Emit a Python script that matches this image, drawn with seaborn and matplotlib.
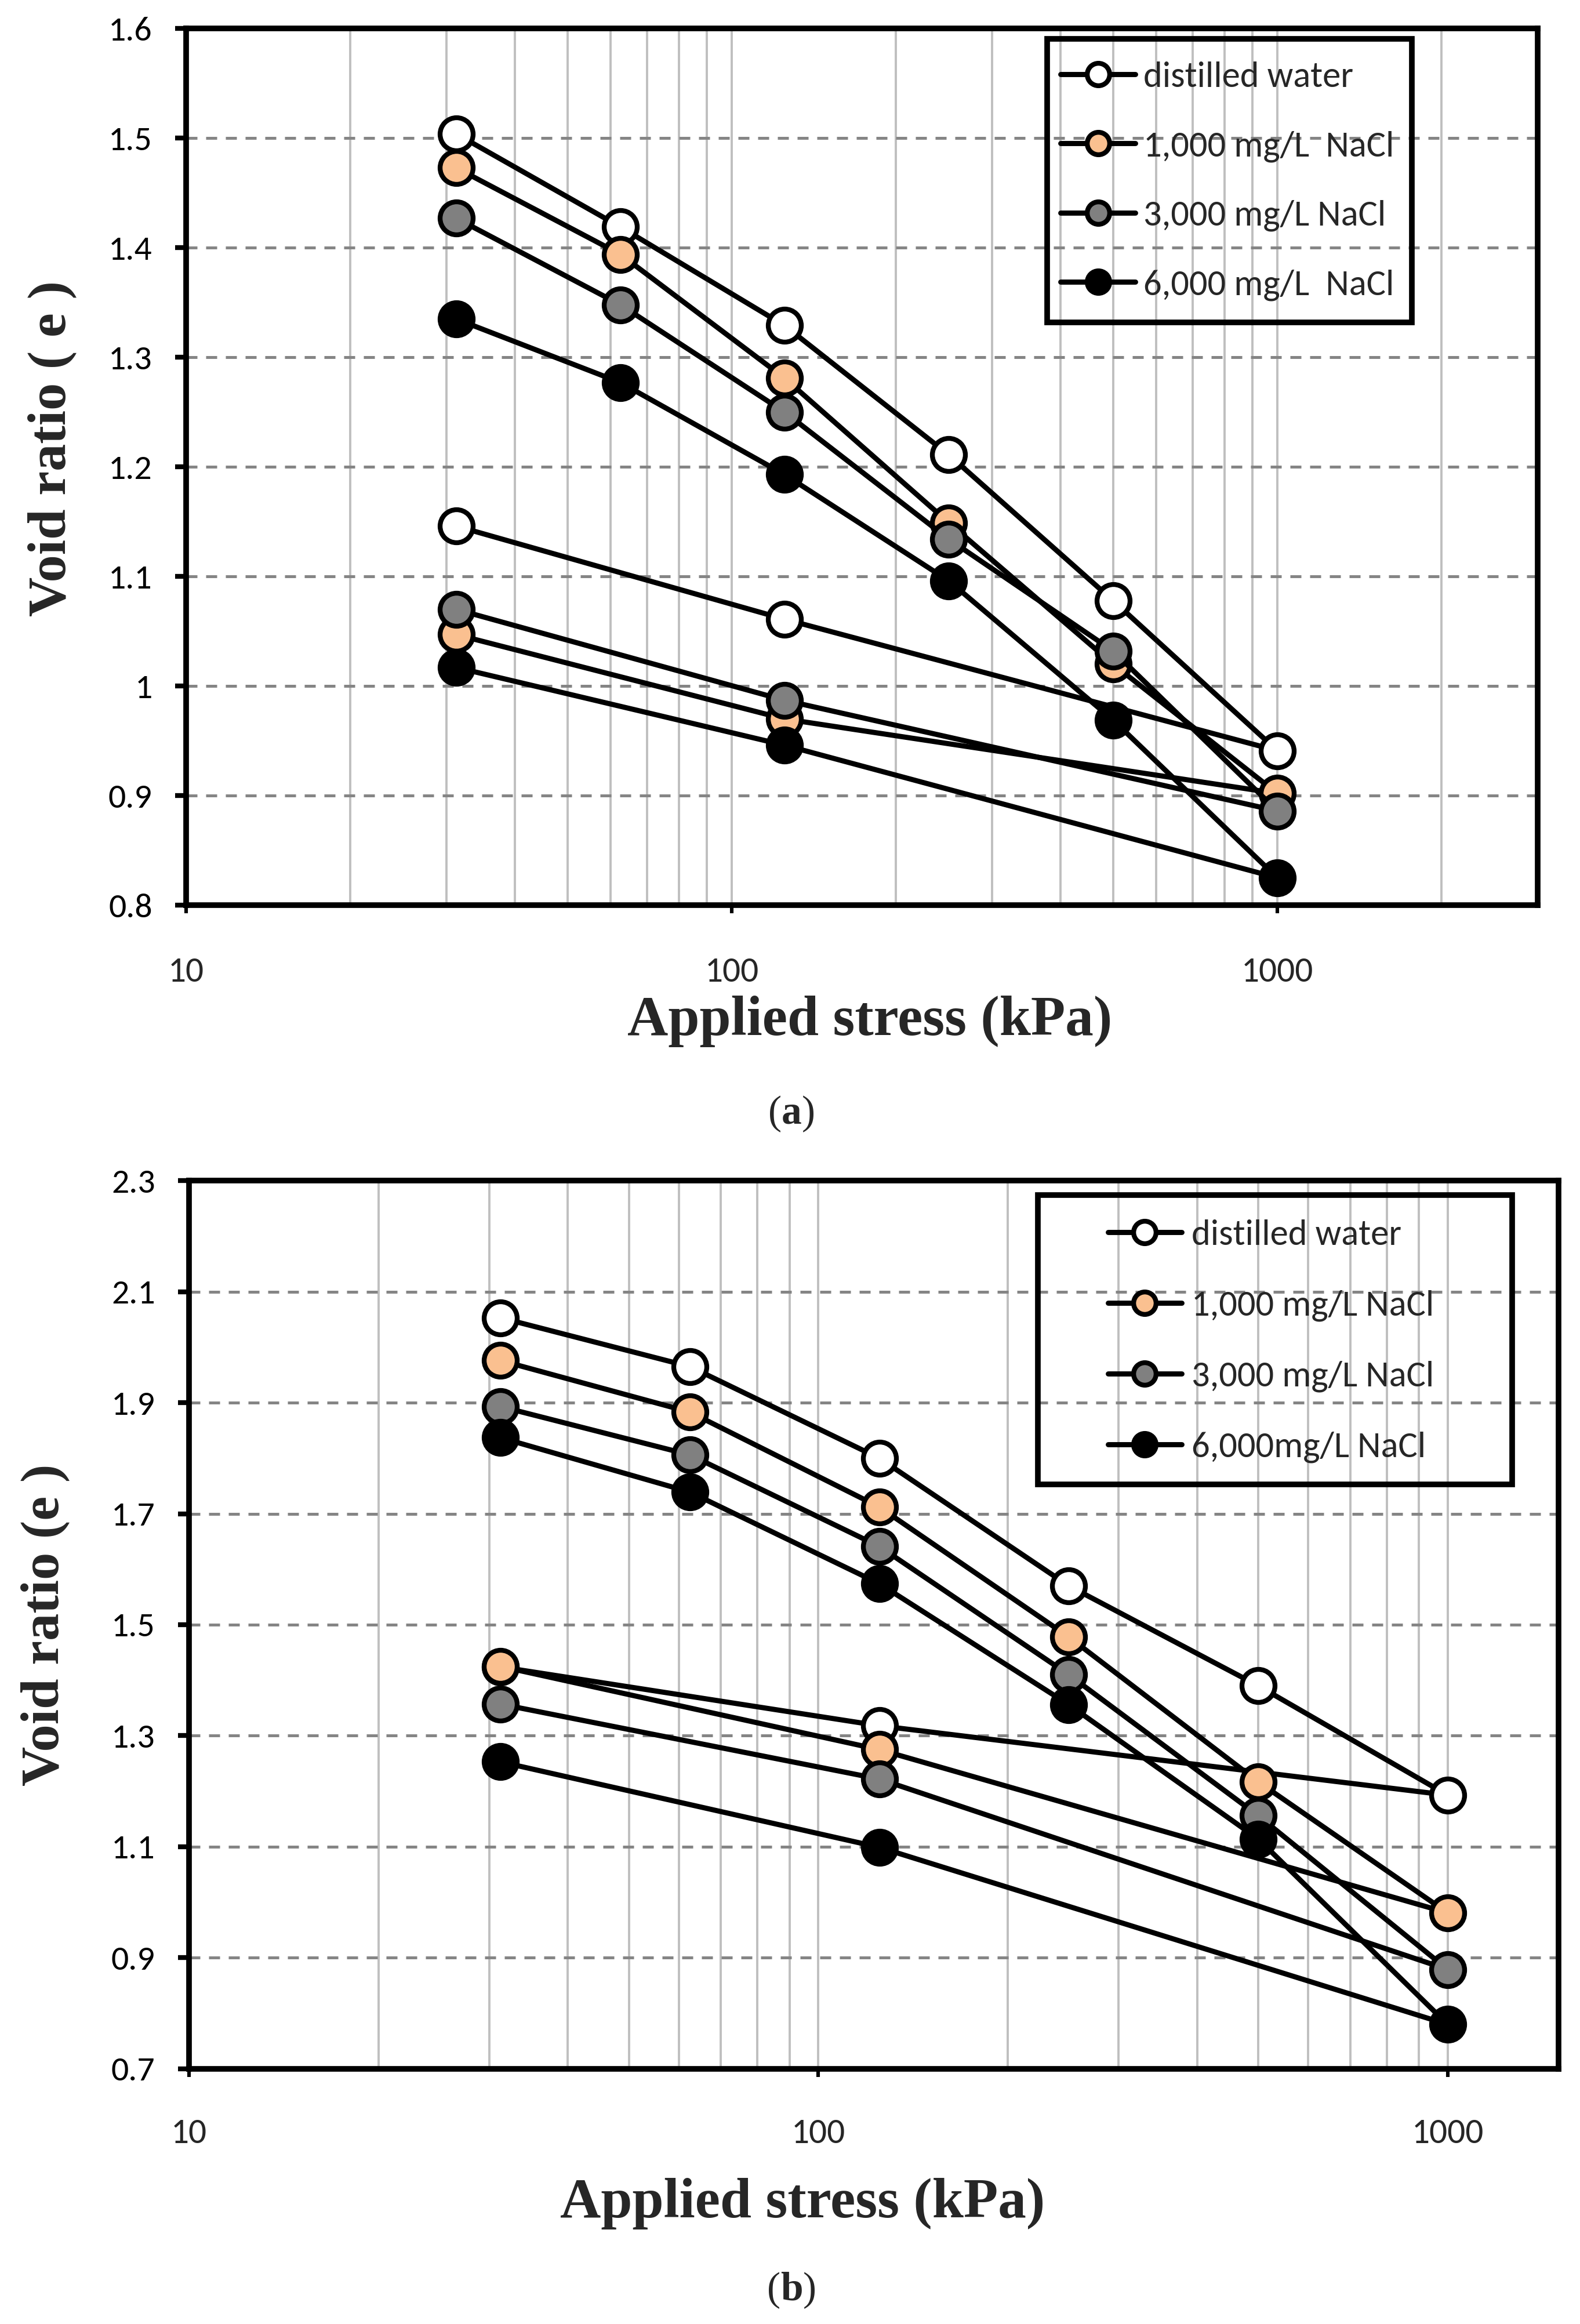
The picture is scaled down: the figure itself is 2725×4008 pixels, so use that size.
import numpy as np
import pandas as pd
import matplotlib
matplotlib.use("Agg")
import matplotlib.pyplot as plt
import seaborn as sns
from matplotlib import font_manager
from matplotlib.font_manager import FontProperties
from matplotlib.ticker import FixedLocator, LogLocator, FuncFormatter, NullFormatter
from matplotlib.patches import Rectangle

# ---------------- data ----------------
stress_load = [31.25, 62.5, 125, 250, 500, 1000]
stress_unload = [125, 31.25]

fill_colors = ["#FFFFFF", "#FAC090", "#808080", "#000000"]

legend_a = ["distilled water", "1,000 mg/L  NaCl", "3,000 mg/L NaCl", "6,000 mg/L  NaCl"]
legend_b = ["distilled water", "1,000 mg/L NaCl", "3,000 mg/L NaCl", "6,000mg/L NaCl"]

# panel (a)
a_dw_load = [1.504, 1.419, 1.329, 1.211, 1.078, 0.941]
a_dw_unload = [1.061, 1.146]
a_1000_load = [1.473, 1.394, 1.281, 1.149, 1.020, 0.902]
a_1000_unload = [0.970, 1.047]
a_3000_load = [1.427, 1.348, 1.250, 1.134, 1.032, 0.886]
a_3000_unload = [0.987, 1.070]
a_6000_load = [1.335, 1.277, 1.193, 1.096, 0.969, 0.825]
a_6000_unload = [0.946, 1.017]

# panel (b)
b_dw_load = [2.053, 1.965, 1.800, 1.570, 1.390, 1.193]
b_dw_unload = [1.318, 1.424]
b_1000_load = [1.976, 1.883, 1.712, 1.478, 1.217, 0.981]
b_1000_unload = [1.275, 1.425]
b_3000_load = [1.893, 1.806, 1.641, 1.410, 1.156, 0.879]
b_3000_unload = [1.222, 1.357]
b_6000_load = [1.837, 1.739, 1.574, 1.356, 1.114, 0.780]
b_6000_unload = [1.099, 1.253]

a_yticks = [0.8, 0.9, 1.0, 1.1, 1.2, 1.3, 1.4, 1.5, 1.6]
b_yticks = [0.7, 0.9, 1.1, 1.3, 1.5, 1.7, 1.9, 2.1, 2.3]
x_ticks = [10, 100, 1000]

# ---------------- fonts / rc ----------------
sns.set_style("white")
names = {f.name for f in font_manager.fontManager.ttflist}
SANS = next((n for n in ["Carlito", "Lato", "Noto Sans"] if n in names), "DejaVu Sans")
SERIF = next((n for n in ["Liberation Serif", "DejaVu Serif"] if n in names), "DejaVu Serif")
plt.rcParams["font.family"] = [SANS, "DejaVu Sans"]
plt.rcParams.update({
    "xtick.major.size": 5, "xtick.major.width": 2.2,
    "xtick.direction": "out", "xtick.bottom": True, "xtick.color": "black",
    "ytick.major.pad": 14, "ytick.major.size": 7, "ytick.major.width": 3,
    "ytick.labelsize": 21.5, "ytick.direction": "out", "ytick.left": True,
    "ytick.color": "black",
    "xtick.minor.size": 0, "ytick.minor.size": 0,
})

DPI = 200
fig = plt.figure(figsize=(2725 / DPI, 4008 / DPI), dpi=DPI, facecolor="white")

ax_a = fig.add_axes([0.1178, 0.6105, 0.8554, 0.3772])
ax_b = fig.add_axes([0.1196, 0.1098, 0.8668, 0.3822])


def draw_series(ax, loads, unloads, labels):
    for i, (ld, ul) in enumerate(zip(loads, unloads)):
        df = pd.DataFrame({"stress": stress_load + stress_unload, "e": ld + ul})
        sns.lineplot(data=df, x="stress", y="e", ax=ax, sort=False, estimator=None,
                     color="black", linewidth=3.2, marker="o", markersize=20.5,
                     markerfacecolor=fill_colors[i], markeredgecolor="black",
                     markeredgewidth=3.0, label=labels[i], zorder=3 + i)


def style_axes(ax, ylim, yticks, xmax, xlab_off):
    ax.set_xscale("log")
    ax.set_xlim(10, xmax)
    ax.set_ylim(*ylim)
    ax.set_axisbelow(True)
    ax.xaxis.set_major_locator(FixedLocator(x_ticks))
    ax.xaxis.set_major_formatter(NullFormatter())
    ax.xaxis.set_minor_locator(LogLocator(base=10, subs=np.arange(2, 10)))
    ax.xaxis.set_minor_formatter(NullFormatter())
    ax.yaxis.set_major_locator(FixedLocator(yticks))
    ax.yaxis.set_major_formatter(FuncFormatter(lambda v, p: f"{round(v, 2):g}"))
    ax.grid(True, axis="x", which="both", color="#BFBFBF", linewidth=1.4, linestyle="-")
    ax.grid(True, axis="y", which="major", color="#858585", linewidth=1.8,
            linestyle=(0, (3.8, 3.0)))
    ax.tick_params(axis="x", which="minor", length=0)
    ax.tick_params(axis="x", which="major", direction="out", length=5, width=2.2,
                   bottom=True, labelbottom=False, color="black")
    ax.tick_params(axis="y", which="major", direction="out", length=7, width=3,
                   pad=14, labelsize=21.5, left=True, color="black")
    for s in ax.spines.values():
        s.set_visible(True)
        s.set_color("black")
        s.set_linewidth(3.5)
    # x tick labels placed well below the axis, as in the original
    tr = ax.get_xaxis_transform()
    for v in x_ticks:
        ax.text(v, -xlab_off, f"{v:g}", transform=tr, ha="center", va="top",
                fontsize=22, family=[SANS, "DejaVu Sans"], clip_on=False)


def legend_box(ax, labels, anchor, spacing, hlen, hpad, rect):
    handles, _ = ax.get_legend_handles_labels()
    leg = ax.legend(handles[:4], labels, loc="upper left", bbox_to_anchor=anchor,
                    frameon=False, borderpad=0, borderaxespad=0, handlelength=hlen,
                    handletextpad=hpad, labelspacing=spacing, markerscale=0.68,
                    prop=FontProperties(family=[SANS, "DejaVu Sans"], size=22.5))
    leg.set_zorder(10)
    x0, y0, x1, y1 = rect
    ax.add_patch(Rectangle((x0, y0), x1 - x0, y1 - y0, transform=ax.transAxes,
                           fill=False, edgecolor="black", linewidth=3.5,
                           zorder=10, clip_on=False))


xlabel_font = dict(family=SERIF, weight="bold", size=35)
ylabel_font = dict(family=SERIF, weight="bold", size=34)

# ---- panel (a)
draw_series(ax_a, [a_dw_load, a_1000_load, a_3000_load, a_6000_load],
            [a_dw_unload, a_1000_unload, a_3000_unload, a_6000_unload], legend_a)
style_axes(ax_a, (0.8, 1.6), a_yticks, 3000, 0.059)
ax_a.set_xlabel("Applied stress (kPa)", fontdict=xlabel_font)
ax_a.set_ylabel("Void ratio ( e )", fontdict=ylabel_font)
ax_a.xaxis.set_label_coords(0.506, -0.103)
ax_a.yaxis.set_label_coords(-0.081, 0.521)
legend_box(ax_a, legend_a, (0.647, 0.9623), 1.04, 2.06, 0.22,
           (0.637, 0.665, 0.907, 0.988))

# ---- panel (b)
draw_series(ax_b, [b_dw_load, b_1000_load, b_3000_load, b_6000_load],
            [b_dw_unload, b_1000_unload, b_3000_unload, b_6000_unload], legend_b)
style_axes(ax_b, (0.7, 2.3), b_yticks, 1500, 0.0555)
ax_b.set_xlabel("Applied stress (kPa)", fontdict=xlabel_font)
ax_b.set_ylabel("Void ratio (e )", fontdict=ylabel_font)
ax_b.xaxis.set_label_coords(0.448, -0.1225)
ax_b.yaxis.set_label_coords(-0.087, 0.5)
legend_box(ax_b, legend_b, (0.671, 0.9563), 1.08, 2.03, 0.27,
           (0.620, 0.658, 0.966, 0.984))


# ---- captions "(a)" / "(b)" with bold letter
def caption(xf, yf, letter):
    t = fig.text(xf, yf, letter, ha="center", va="center",
                 family=SERIF, weight="bold", size=25)
    ax_b.annotate("(", xy=(0, 0), xycoords=t, ha="right", va="bottom",
                  family=SERIF, size=25, annotation_clip=False)
    ax_b.annotate(")", xy=(1, 0), xycoords=t, ha="left", va="bottom",
                  family=SERIF, size=25, annotation_clip=False)


caption(0.501, 0.5208, "a")
caption(0.501, 0.0145, "b")

fig.savefig("out.png", dpi=DPI, facecolor="white")
